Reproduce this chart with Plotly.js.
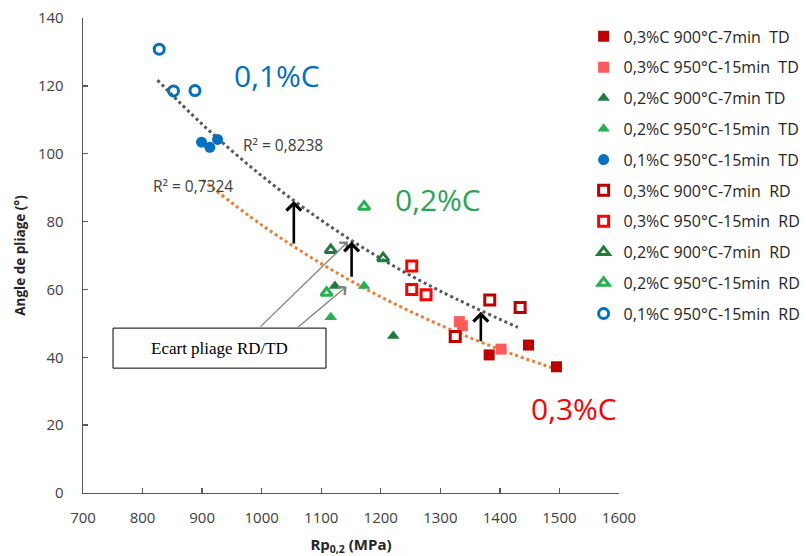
<!DOCTYPE html>
<html><head><meta charset="utf-8">
<script src="https://cdn.plot.ly/plotly-3.0.1.min.js"></script>
<style>html,body{margin:0;padding:0;background:#fff}#chart{width:806px;height:556px}</style>
</head><body><div id="chart"></div>
<script>
// ---- data ----
const seriesNames = [
  "0,3%C 900°C-7min  TD", "0,3%C 950°C-15min  TD", "0,2%C 900°C-7min TD", "0,2%C 950°C-15min  TD",
  "0,1%C 950°C-15min  TD", "0,3%C 900°C-7min  RD", "0,3%C 950°C-15min  RD", "0,2%C 900°C-7min  RD",
  "0,2%C 950°C-15min  RD", "0,1%C 950°C-15min  RD"
];
const c03_900_TD_x = [1382, 1448, 1495];
const c03_900_TD_y = [40.7, 43.6, 37.2];
const c03_950_TD_x = [1332, 1337, 1402];
const c03_950_TD_y = [50.5, 49.3, 42.4];
const c02_900_TD_x = [1123, 1221];
const c02_900_TD_y = [61.0, 46.3];
const c02_950_TD_x = [1172, 1116];
const c02_950_TD_y = [61.0, 51.8];
const c01_950_TD_x = [899, 913, 926];
const c01_950_TD_y = [103.4, 101.9, 104.2];
const c03_900_RD_x = [1325, 1383, 1434];
const c03_900_RD_y = [46.1, 56.9, 54.7];
const c03_950_RD_x = [1252, 1252, 1276];
const c03_950_RD_y = [66.9, 60.0, 58.4];
const c02_900_RD_x = [1116, 1204];
const c02_900_RD_y = [71.6, 69.2];
const c02_950_RD_x = [1172, 1109];
const c02_950_RD_y = [84.4, 59.0];
const c01_950_RD_x = [828, 852, 888];
const c01_950_RD_y = [130.8, 118.5, 118.6];

// trendlines
const trendRD_x = [825, 900, 1000, 1100, 1200, 1300, 1430];
const trendRD_y = [121.7, 108.7, 93.5, 80.4, 69.1, 59.5, 48.8];
const trendTD_x = [901, 1000, 1100, 1200, 1300, 1400, 1495];
const trendTD_y = [92.2, 79.0, 67.6, 57.8, 49.5, 42.3, 36.5];

// black "gap" arrows: x, bottom (TD line), top (RD line)
const gapArrow_x = [1054, 1151, 1368];
const gapArrow_y0 = [73.1, 63.3, 44.3];
const gapArrow_y1 = [86.1, 74.1, 53.4];

const xTickVals = [700, 800, 900, 1000, 1100, 1200, 1300, 1400, 1500, 1600];
const yTickVals = [0, 20, 40, 60, 80, 100, 120, 140];

// ---- styling ----
const FONT = "Open Sans, Liberation Sans, sans-serif";
const DRED = "#C00000", LRED = "#FF5B5B", RED = "#FF0000";
const DGREEN = "#1E7B3C", LGREEN = "#26B150", BLUE = "#0070C0";

function sc(name, xs, ys, symbol, color, size, group) {
  const open = symbol.indexOf("open") >= 0;
  return {
    type: "scatter", mode: "markers", name: name, x: xs, y: ys,
    legendgroup: group, cliponaxis: false,
    marker: { symbol: symbol, color: color, size: size,
              line: { color: color, width: open ? 3 : 0 } },
    hoverinfo: "x+y"
  };
}

const traces = [
  { type: "scatter", mode: "lines", x: trendRD_x, y: trendRD_y, showlegend: false,
    line: { color: "#595959", width: 3, dash: "dot", shape: "spline" }, hoverinfo: "skip" },
  { type: "scatter", mode: "lines", x: trendTD_x, y: trendTD_y, showlegend: false,
    line: { color: "#ED7D31", width: 3, dash: "dot", shape: "spline" }, hoverinfo: "skip" },
  sc(seriesNames[0], c03_900_TD_x, c03_900_TD_y, "square", DRED, 11, "g0"),
  sc(seriesNames[1], c03_950_TD_x, c03_950_TD_y, "square", LRED, 11, "g1"),
  sc(seriesNames[2], c02_900_TD_x, c02_900_TD_y, "triangle-up", DGREEN, 11, "g2"),
  sc(seriesNames[3], c02_950_TD_x, c02_950_TD_y, "triangle-up", LGREEN, 11, "g3"),
  sc(seriesNames[4], c01_950_TD_x, c01_950_TD_y, "circle", BLUE, 11, "g4"),
  sc(seriesNames[5], c03_900_RD_x, c03_900_RD_y, "square-open", DRED, 10, "g5"),
  sc(seriesNames[6], c03_950_RD_x, c03_950_RD_y, "square-open", RED, 10, "g6"),
  sc(seriesNames[7], c02_900_RD_x, c02_900_RD_y, "triangle-up-open", DGREEN, 10, "g7"),
  sc(seriesNames[8], c02_950_RD_x, c02_950_RD_y, "triangle-up-open", LGREEN, 10, "g8"),
  sc(seriesNames[9], c01_950_RD_x, c01_950_RD_y, "circle-open", BLUE, 10, "g9")
];

const annotations = [
  { x: 1026, y: 123.2, xref: "x", yref: "y", text: "0,1%C", showarrow: false,
    font: { family: FONT, size: 30, color: BLUE } },
  { x: 1296, y: 86.5, xref: "x", yref: "y", text: "0,2%C", showarrow: false,
    font: { family: FONT, size: 30, color: "#2AA558" } },
  { x: 1524, y: 25.0, xref: "x", yref: "y", text: "0,3%C", showarrow: false,
    font: { family: FONT, size: 30, color: RED } },
  { x: 1035, y: 102.5, xref: "x", yref: "y", text: "R² = 0,8238", showarrow: false,
    font: { family: FONT, size: 15.5, color: "#404040" } },
  { x: 884, y: 90.6, xref: "x", yref: "y", text: "R² = 0,7324", showarrow: false,
    font: { family: FONT, size: 15.5, color: "#404040" } },
  { x: 929, y: 42.7, xref: "x", yref: "y", text: "Ecart pliage RD/TD", showarrow: false,
    font: { family: "Liberation Serif, serif", size: 17, color: "#000" } },
  // grey pointer arrows from the box
  { x: 1145, y: 74.1, ax: 995.5, ay: 48.6, xref: "x", yref: "y", axref: "x", ayref: "y",
    text: "", showarrow: true, arrowhead: 4, arrowsize: 1.6, arrowwidth: 1.3, arrowcolor: "#7F7F7F", standoff: 0 },
  { x: 1142.6, y: 60.9, ax: 1059.3, ay: 48.6, xref: "x", yref: "y", axref: "x", ayref: "y",
    text: "", showarrow: true, arrowhead: 4, arrowsize: 1.6, arrowwidth: 1.3, arrowcolor: "#7F7F7F", standoff: 0 }
];
for (let i = 0; i < gapArrow_x.length; i++) {
  annotations.push({ x: gapArrow_x[i], y: gapArrow_y1[i], ax: gapArrow_x[i], ay: gapArrow_y0[i],
    xref: "x", yref: "y", axref: "x", ayref: "y", text: "", showarrow: true,
    arrowhead: 4, arrowsize: 1.1, arrowwidth: 2.6, arrowcolor: "#000", standoff: 0 });
}

const layout = {
  width: 806, height: 556,
  margin: { l: 83, r: 187, t: 18, b: 63, autoexpand: false },
  paper_bgcolor: "#fff", plot_bgcolor: "#fff",
  font: { family: FONT, size: 15, color: "#404040" },
  showlegend: true,
  legend: { x: 0.934, xanchor: "left", y: 0.997, yanchor: "top",
            font: { family: FONT, size: 16, color: "#262626" },
            traceorder: "grouped", tracegroupgap: 7, bgcolor: "rgba(0,0,0,0)" },
  xaxis: { range: [700, 1600], tickvals: xTickVals, showgrid: false, zeroline: false,
           showline: true, linecolor: "#595959", linewidth: 1.3,
           ticks: "inside", ticklen: 5, tickcolor: "#595959", tickwidth: 1.3,
           ticklabelstandoff: 11,
           tickfont: { family: FONT, size: 15, color: "#404040" },
           title: { text: "<b>Rp<sub>0,2</sub> (MPa)</b>", standoff: 13,
                    font: { family: FONT, size: 15, color: "#262626" } } },
  yaxis: { range: [0, 140], tickvals: yTickVals, showgrid: false, zeroline: false,
           showline: true, linecolor: "#595959", linewidth: 1.3,
           ticks: "inside", ticklen: 5, tickcolor: "#595959", tickwidth: 1.3,
           ticklabelstandoff: 15,
           tickfont: { family: FONT, size: 15, color: "#404040" },
           title: { text: "<b>Angle de pliage (°)</b>", standoff: 9,
                    font: { family: FONT, size: 13.5, color: "#262626" } } },
  shapes: [
    { type: "rect", xref: "x", yref: "y", x0: 750.4, x1: 1108, y0: 36.8, y1: 48.6,
      line: { color: "#000", width: 1 }, fillcolor: "#fff", layer: "above" }
  ],
  annotations: annotations
};

Plotly.newPlot("chart", traces, layout, { displayModeBar: false, staticPlot: true });
</script>
</body></html>
